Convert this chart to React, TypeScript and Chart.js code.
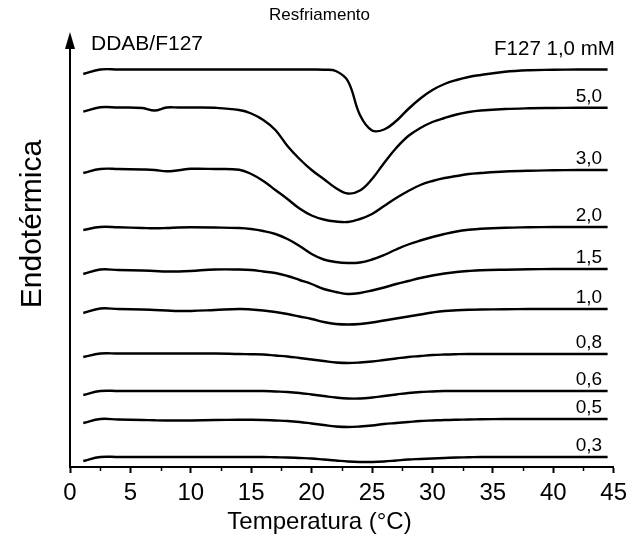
import React, { useEffect, useRef } from "react";
import { Chart, registerables } from "chart.js";

Chart.register(...registerables);

// Temperature (°C) sample points shared by all DSC curves
const temperatures = [1.1, 2.5, 4, 6, 7, 8, 9, 10, 12, 14, 15, 16, 17, 18, 19, 20, 21, 22, 23, 24, 25, 26, 27, 28, 29, 30, 31, 32, 33, 34, 36, 38, 40, 42, 44.5];

// Heat flow (arbitrary units, stacked) for each DDAB concentration (mM)
const curveF127 = [393, 397.5, 397.5, 397.5, 397.5, 397.5, 397.5, 397.5, 397.5, 397.5, 397.5, 397.5, 397.5, 397.5, 397.5, 397.5, 397.3, 396, 386, 352, 336.5, 337.5, 346, 358, 368.5, 377, 383, 387, 390, 392, 395.3, 396.8, 397.2, 397.5, 397.5];
const curve50 = [355.3, 359.7, 359.5, 359, 356.5, 359.5, 359.5, 359.5, 359.2, 357, 353.5, 347, 337, 321, 308, 297, 288, 279, 273.5, 276.5, 288, 304, 319, 331, 339, 345, 349, 352.5, 355, 356.5, 358, 358.7, 359, 359.2, 359.3];
const curve30 = [294, 298, 298, 297.5, 297, 295.7, 296.8, 298.2, 298, 297.2, 293, 286, 277, 268, 258.5, 251.5, 247.5, 245.5, 245, 248, 253, 261, 269, 276, 282, 286, 289, 291, 293, 294, 295.5, 296.3, 296.7, 297, 297];
const curve20 = [237, 240, 239.7, 239, 238.7, 239, 239.5, 239.7, 239.5, 239, 238, 236, 233, 228, 221, 213, 207.5, 205, 204, 204.5, 207.5, 212, 217.5, 222.5, 226.5, 230, 233, 235.5, 237.2, 238.3, 239.3, 239.7, 240, 240, 240];
const curve15 = [193, 197.5, 197, 196.5, 196, 195.5, 195.5, 196, 197.5, 197.5, 197, 195.5, 194, 191, 187, 183, 178, 175, 173, 174, 176.5, 179.5, 183, 186, 189, 191.5, 193.5, 195, 196, 196.7, 197.3, 197.7, 198, 198, 198];
const curve10 = [154, 158.5, 158, 157.5, 157, 156.5, 156, 156, 157, 158, 157.5, 156.5, 155, 153, 150.5, 148, 145, 143, 142.5, 143, 144.5, 146.5, 148.5, 150.5, 152.5, 154.5, 156, 156.7, 157.2, 157.5, 157.8, 158, 158, 158, 158];
const curve08 = [110, 113.5, 113.5, 113.5, 113.5, 113.5, 113.5, 113.5, 113.5, 113, 112.8, 112.5, 111.5, 110.5, 109, 107.5, 106, 104.5, 104, 104.5, 105.5, 107, 108.5, 110, 111, 112, 112.5, 112.8, 113, 113, 113, 113, 113, 113, 113];
const curve06 = [72, 76, 76, 76, 76, 76, 76, 76, 76, 76, 76, 76, 75.5, 75, 74, 72.5, 71, 69.5, 68.5, 68.5, 69.5, 71, 72.5, 74, 75, 75.5, 76, 76, 76, 76, 76, 76, 76, 76, 76];
const curve05 = [44, 48, 47.5, 47, 46.7, 46.5, 46.5, 46.5, 47, 47.2, 47.2, 47, 46.5, 46, 45, 43.5, 42, 40.5, 40, 40.5, 41.5, 43, 44, 45, 46, 46.5, 47, 47.3, 47.5, 47.7, 48, 48, 48, 48, 48];
const curve03 = [6, 10, 10, 10, 10, 10, 10, 10, 10, 10, 10, 10, 9.7, 9.5, 9, 8.5, 7.5, 6.5, 5.5, 5, 5, 5.5, 6.5, 7.5, 8, 8.5, 9, 9.5, 9.7, 10, 10, 10, 10, 10, 10];

const seriesLabels = ["F127 1,0 mM", "5,0", "3,0", "2,0", "1,5", "1,0", "0,8", "0,6", "0,5", "0,3"];
const seriesValues = [curveF127, curve50, curve30, curve20, curve15, curve10, curve08, curve06, curve05, curve03];

const xMajorTicks = [0, 5, 10, 15, 20, 25, 30, 35, 40, 45];
const xMinorTicks = [2.5, 7.5, 12.5, 17.5, 22.5, 27.5, 32.5, 37.5, 42.5];

const chartTitle = "Resfriamento";
const systemLabel = "DDAB/F127";
const xTitle = "Temperatura (°C)";
const yTitle = "Endotérmica";

const FONT = "'Liberation Sans', Arial, Helvetica, sans-serif";

const decorPlugin = {
  id: "decor",
  afterDraw(chart: any) {
    const { ctx, chartArea, scales } = chart;
    const xs = scales.x;
    const ys = scales.y;
    ctx.save();
    // minor ticks
    ctx.strokeStyle = "#000";
    ctx.lineWidth = 1.5;
    for (const t of xMinorTicks) {
      const px = Math.round(xs.getPixelForValue(t)) + 0.5;
      ctx.beginPath();
      ctx.moveTo(px, chartArea.bottom);
      ctx.lineTo(px, chartArea.bottom + 4);
      ctx.stroke();
    }
    // arrow head on y axis
    const ax = chartArea.left;
    ctx.fillStyle = "#000";
    ctx.beginPath();
    ctx.moveTo(ax, chartArea.top - 8);
    ctx.lineTo(ax - 5, chartArea.top + 9);
    ctx.lineTo(ax + 5, chartArea.top + 9);
    ctx.closePath();
    ctx.fill();

    ctx.fillStyle = "#000";
    // chart title
    ctx.font = `17px ${FONT}`;
    ctx.textAlign = "center";
    ctx.textBaseline = "alphabetic";
    ctx.fillText(chartTitle, chart.width / 2 + 3, 20);

    // x axis title, centred on the figure
    ctx.font = `24px ${FONT}`;
    ctx.textAlign = "center";
    ctx.textBaseline = "middle";
    ctx.fillText(xTitle, chart.width / 2 + 3, 522);

    // system label
    ctx.textBaseline = "alphabetic";
    ctx.font = `21px ${FONT}`;
    ctx.textAlign = "left";
    ctx.fillText(systemLabel, chartArea.left + 21, 50);

    // curve labels
    seriesLabels.forEach((lab, i) => {
      const vals = seriesValues[i];
      const last = vals[vals.length - 1];
      const py = ys.getPixelForValue(last);
      ctx.textAlign = "right";
      if (i === 0) {
        ctx.font = `20.5px ${FONT}`;
        ctx.fillText(lab, xs.getPixelForValue(45.1), py - 15);
      } else {
        ctx.font = `19px ${FONT}`;
        ctx.fillText(lab, xs.getPixelForValue(44.05), py - 6);
      }
    });

    // y title
    ctx.save();
    ctx.translate(41, 224);
    ctx.rotate(-Math.PI / 2);
    ctx.font = `30px ${FONT}`;
    ctx.textAlign = "center";
    ctx.textBaseline = "alphabetic";
    ctx.fillText(yTitle, 0, 0);
    ctx.restore();

    ctx.restore();
  },
};

export default function App() {
  const canvasRef = useRef<HTMLCanvasElement | null>(null);

  useEffect(() => {
    const canvas = canvasRef.current;
    if (!canvas) return;
    const chart = new Chart(canvas, {
      type: "line",
      data: {
        labels: temperatures,
        datasets: seriesValues.map((vals, i) => ({
          label: seriesLabels[i],
          data: vals.map((v, j) => ({ x: temperatures[j], y: v })),
          borderColor: "#000",
          borderWidth: 2.4,
          pointRadius: 0,
          fill: false,
          tension: 0.4,
        })),
      },
      options: {
        responsive: false,
        animation: false,
        layout: { padding: { top: 40, right: 14, left: 0, bottom: 0 } },
        plugins: {
          legend: { display: false },
          title: { display: false },
          tooltip: { enabled: false },
        },
        scales: {
          x: {
            type: "linear",
            min: 0,
            max: 45,
            afterBuildTicks: (scale: any) => {
              scale.ticks = xMajorTicks.map((v) => ({ value: v }));
            },
            afterFit: (scale: any) => {
              scale.height = 72;
            },
            ticks: {
              color: "#000",
              font: { family: FONT, size: 24 },
              padding: 6,
              maxRotation: 0,
              autoSkip: false,
            },
            grid: {
              display: true,
              drawOnChartArea: false,
              drawTicks: true,
              tickLength: 6,
              tickWidth: 2,
              tickColor: "#000",
            },
            border: { display: true, color: "#000", width: 2 },
            title: { display: false },
          },
          y: {
            type: "linear",
            min: 0,
            max: 427,
            afterFit: (scale: any) => {
              scale.width = 70;
            },
            ticks: { display: false },
            grid: { display: false },
            border: { display: true, color: "#000", width: 2 },
          },
        },
      },
      plugins: [decorPlugin],
    });
    return () => chart.destroy();
  }, []);

  return (
    <div style={{ position: "absolute", left: 0, top: 0, width: 633, height: 539, background: "#fff" }}>
      <canvas ref={canvasRef} width={633} height={539} style={{ display: "block" }} />
    </div>
  );
}
